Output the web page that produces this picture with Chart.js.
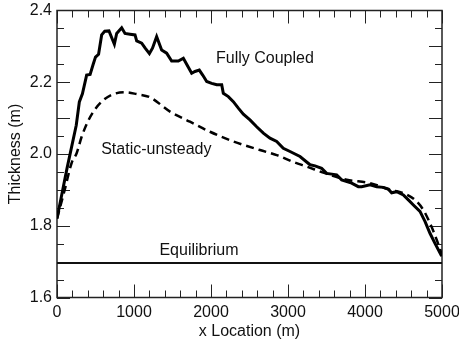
<!DOCTYPE html>
<html>
<head>
<meta charset="utf-8">
<script src="https://cdn.jsdelivr.net/npm/chart.js@4/dist/chart.umd.min.js"></script>
<style>
  html, body { margin: 0; padding: 0; background: #fff; }
  #wrap { width: 459px; height: 345px; position: relative; }
</style>
</head>
<body>
<div id="wrap"><canvas id="chartCanvas"></canvas></div>
<script>
// values
const fullyX = [0, 130, 250, 290, 330, 385, 430, 470, 500, 540, 580, 620, 675, 745, 775, 840, 883, 948, 1013, 1035,
  1100, 1143, 1200, 1240, 1294, 1359, 1424, 1489, 1576, 1641, 1684, 1749, 1792, 1848, 1892, 1944, 2009, 2074, 2139, 2160,
  2225, 2290, 2355, 2420, 2506, 2593, 2680, 2766, 2853, 2939, 3026, 3156, 3286, 3351, 3437, 3502, 3632, 3697, 3827, 3913,
  3957, 4065, 4152, 4238, 4303, 4346, 4411, 4498, 4563, 4628, 4714, 4779, 4844, 4909, 4987, 5000];
const fullyY = [1.82, 1.96, 2.08, 2.145, 2.168, 2.22, 2.222, 2.25, 2.27, 2.278, 2.332, 2.342, 2.343, 2.306, 2.336, 2.352, 2.336, 2.334, 2.332, 2.315,
  2.309, 2.296, 2.28, 2.295, 2.327, 2.29, 2.281, 2.259, 2.259, 2.267, 2.25, 2.225, 2.23, 2.234, 2.22, 2.202, 2.197, 2.193, 2.193, 2.169,
  2.16, 2.146, 2.128, 2.111, 2.095, 2.076, 2.058, 2.044, 2.035, 2.016, 2.007, 1.993, 1.97, 1.967, 1.96, 1.946, 1.942, 1.928, 1.919, 1.909,
  1.909, 1.914, 1.909, 1.907, 1.902, 1.892, 1.895, 1.886, 1.872, 1.858, 1.84, 1.812, 1.779, 1.751, 1.719, 1.716];

const staticX = [0, 100, 190, 255, 320, 400, 472, 580, 710, 883, 1035, 1208, 1468, 1727, 1987, 2290, 2636, 2853, 3091, 3242,
  3459, 3762, 4065, 4325, 4498, 4649, 4758, 4844, 4931, 5000];
const staticY = [1.82, 1.9, 1.975, 2.002, 2.048, 2.09, 2.118, 2.146, 2.165, 2.172, 2.167, 2.158, 2.118, 2.09, 2.062, 2.035, 2.011, 1.997, 1.976, 1.965,
  1.948, 1.928, 1.919, 1.9, 1.891, 1.872, 1.844, 1.807, 1.761, 1.719];

const equilX = [0, 5000];
const equilY = [1.696, 1.696];

const xTicks = [0, 1000, 2000, 3000, 4000, 5000];
const yTicks = [1.6, 1.8, 2.0, 2.2, 2.4];

const labelText = ['Fully Coupled', 'Static-unsteady', 'Equilibrium'];
const labelX = [2700, 1290, 1844];
const labelY = [2.265, 2.011, 1.731];

const FONT = '"Liberation Sans", Arial, Helvetica, sans-serif';

function pts(xs, ys) {
  return xs.map((x, i) => ({ x: x, y: ys[i] }));
}

// frame box plus inward tick marks on all four sides
const frameTicks = {
  id: 'frameTicks',
  beforeDatasetsDraw(chart) {
    const { ctx, chartArea: a, scales } = chart;
    const xs = scales.x, ys = scales.y;
    ctx.save();
    ctx.strokeStyle = '#222';
    ctx.lineWidth = 1;
    ctx.beginPath();
    for (let v = 0; v <= 5000; v += 200) {
      const px = Math.round(xs.getPixelForValue(v)) + 0.5;
      const len = v % 1000 === 0 ? 13 : 7;
      ctx.moveTo(px, a.bottom); ctx.lineTo(px, a.bottom - len);
      ctx.moveTo(px, a.top); ctx.lineTo(px, a.top + len);
    }
    for (let k = 0; k <= 16; k++) {
      const v = 1.6 + k * 0.05;
      const py = Math.round(ys.getPixelForValue(v)) + 0.5;
      const len = k % 2 === 0 ? 13 : 7;
      ctx.moveTo(a.left, py); ctx.lineTo(a.left + len, py);
      ctx.moveTo(a.right, py); ctx.lineTo(a.right - len, py);
    }
    ctx.stroke();
    ctx.lineWidth = 1.5;
    ctx.strokeRect(a.left, a.top, a.right - a.left, a.bottom - a.top);
    ctx.restore();
  },
  afterDatasetsDraw(chart) {
    const { ctx, scales } = chart;
    ctx.save();
    ctx.fillStyle = '#111';
    ctx.font = '16px ' + FONT;
    ctx.textAlign = 'center';
    ctx.textBaseline = 'middle';
    labelText.forEach((t, i) => {
      ctx.fillText(t, scales.x.getPixelForValue(labelX[i]), scales.y.getPixelForValue(labelY[i]));
    });
    ctx.restore();
  }
};

const ctx = document.getElementById('chartCanvas').getContext('2d');
new Chart(ctx, {
  type: 'line',
  data: {
    datasets: [
      {
        label: 'Fully Coupled',
        data: pts(fullyX, fullyY),
        borderColor: '#000',
        borderWidth: 3,
        pointRadius: 0,
        tension: 0,
        fill: false
      },
      {
        label: 'Static-unsteady',
        data: pts(staticX, staticY),
        borderColor: '#000',
        borderWidth: 2.5,
        borderDash: [8, 5],
        pointRadius: 0,
        cubicInterpolationMode: 'monotone',
        fill: false
      },
      {
        label: 'Equilibrium',
        data: pts(equilX, equilY),
        borderColor: '#111',
        borderWidth: 2,
        pointRadius: 0,
        fill: false
      }
    ]
  },
  options: {
    responsive: true,
    maintainAspectRatio: false,
    animation: false,
    layout: { padding: { top: 10.5, right: 17, left: 0, bottom: 0 } },
    plugins: {
      legend: { display: false },
      tooltip: { enabled: false }
    },
    scales: {
      x: {
        type: 'linear',
        min: 0,
        max: 5000,
        grid: { display: false, drawTicks: false },
        border: { display: false },
        afterBuildTicks: s => { s.ticks = xTicks.map(v => ({ value: v })); },
        afterFit: s => { s.height = 47.5; s.paddingLeft = 0; s.paddingRight = 0; },
        ticks: {
          padding: 5,
          color: '#111',
          maxRotation: 0,
          font: { family: FONT, size: 16 },
          callback: v => String(v)
        },
        title: {
          display: true,
          text: 'x Location (m)',
          color: '#111',
          padding: { top: 0, bottom: 4 },
          font: { family: FONT, size: 16 }
        }
      },
      y: {
        min: 1.6,
        max: 2.4,
        grid: { display: false, drawTicks: false },
        border: { display: false },
        afterBuildTicks: s => { s.ticks = yTicks.map(v => ({ value: v })); },
        afterFit: s => { s.width = 57; s.paddingTop = 0; s.paddingBottom = 0; },
        ticks: {
          padding: 5,
          color: '#111',
          font: { family: FONT, size: 16 },
          callback: v => v.toFixed(1)
        },
        title: {
          display: true,
          text: 'Thickness (m)',
          color: '#111',
          padding: { top: 6, bottom: 0 },
          font: { family: FONT, size: 16 }
        }
      }
    }
  },
  plugins: [frameTicks]
});
</script>
</body>
</html>
